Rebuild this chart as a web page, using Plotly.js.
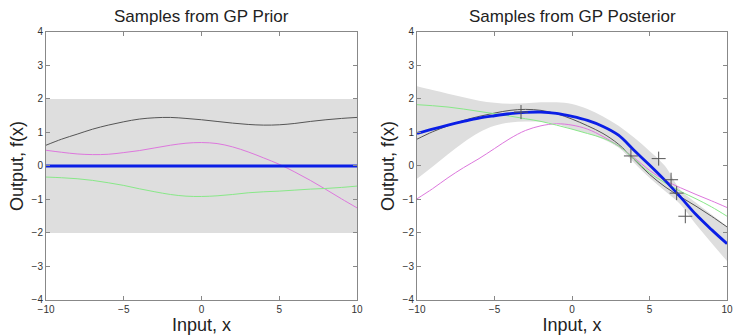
<!DOCTYPE html>
<html>
<head>
<meta charset="utf-8">
<script src="https://cdn.plot.ly/plotly-3.0.1.min.js"></script>
<style>html,body{margin:0;padding:0;background:#fff;}#chart{width:734px;height:335px;}</style>
</head>
<body>
<div id="chart"></div>
<script>
// ---- data ----
const xs = [-10,-9,-8,-7,-6,-5,-4,-3,-2,-1,0,1,2,3,4,5,6,7,8,9,10];

// prior
const priorBandX = [-10, 10];
const priorUpper = [2, 2];
const priorLower = [-2, -2];
const priorMean = [0,0,0,0,0,0,0,0,0,0,0,0,0,0,0,0,0,0,0,0,0];
const priorBlack = [0.62,0.80,0.95,1.10,1.22,1.32,1.40,1.44,1.45,1.42,1.38,1.33,1.28,1.24,1.22,1.23,1.27,1.33,1.38,1.42,1.45];
const priorMagenta = [0.47,0.41,0.36,0.34,0.35,0.40,0.46,0.54,0.62,0.68,0.70,0.67,0.57,0.42,0.24,0.05,-0.18,-0.43,-0.70,-0.98,-1.25];
const priorGreen = [-0.33,-0.35,-0.38,-0.43,-0.50,-0.58,-0.68,-0.77,-0.85,-0.90,-0.91,-0.89,-0.85,-0.80,-0.77,-0.75,-0.72,-0.69,-0.67,-0.64,-0.60];

// posterior
const postUpper = [2.38,2.27,2.16,2.05,1.95,1.89,1.86,1.87,1.90,1.90,1.85,1.70,1.48,1.20,0.85,0.45,0.00,-0.72,-1.10,-1.45,-1.80];
const postLower = [-0.38,-0.02,0.35,0.70,1.00,1.20,1.30,1.33,1.32,1.25,1.10,0.98,0.80,0.55,0.10,-0.35,-0.75,-1.15,-1.75,-2.30,-2.84];
const postMean = [0.97,1.10,1.22,1.33,1.43,1.50,1.56,1.60,1.61,1.57,1.48,1.36,1.18,0.92,0.47,0.03,-0.43,-0.93,-1.45,-1.90,-2.32];
const postBlack = [0.80,1.02,1.20,1.36,1.48,1.58,1.66,1.69,1.66,1.56,1.40,1.20,0.97,0.65,0.20,-0.25,-0.62,-0.92,-1.20,-1.50,-1.82];
const postGreen = [1.83,1.80,1.76,1.70,1.63,1.56,1.49,1.41,1.33,1.22,1.10,0.97,0.83,0.60,0.22,-0.20,-0.50,-0.76,-0.98,-1.22,-1.50];
const postMagenta = [-0.98,-0.68,-0.35,-0.05,0.22,0.52,0.82,1.06,1.20,1.26,1.22,1.10,0.88,0.60,0.25,-0.13,-0.43,-0.65,-0.85,-1.04,-1.24];
const obsX = [-3.29, 3.80, 5.59, 6.39, 6.75, 7.31];
const obsY = [1.61, 0.30, 0.22, -0.41, -0.81, -1.50];

const tickX = [-10,-5,0,5,10];
const tickXText = ['\u221210','\u22125','0','5','10'];
const tickY = [-4,-3,-2,-1,0,1,2,3,4];
const tickYText = ['\u22124','\u22123','\u22122','\u22121','0','1','2','3','4'];

// ---- styles ----
const bandColor = '#dedede';
const cBlack = '#555555', cMag = '#dd77dd', cGreen = '#88e888', cBlue = '#0a1ee6';

function line(x, y, color, w, xa, ya) {
  return {x: x, y: y, mode: 'lines', line: {color: color, width: w, shape: 'spline', smoothing: 1}, xaxis: xa, yaxis: ya, hoverinfo: 'skip', showlegend: false};
}

const traces = [
  {x: priorBandX, y: priorUpper, mode: 'lines', line: {width: 0}, xaxis: 'x', yaxis: 'y', showlegend: false, hoverinfo: 'skip'},
  {x: priorBandX, y: priorLower, mode: 'lines', line: {width: 0}, fill: 'tonexty', fillcolor: bandColor, xaxis: 'x', yaxis: 'y', showlegend: false, hoverinfo: 'skip'},
  line(xs, priorBlack, cBlack, 1, 'x', 'y'),
  line(xs, priorMagenta, cMag, 1, 'x', 'y'),
  line(xs, priorGreen, cGreen, 1, 'x', 'y'),
  line(xs, priorMean, cBlue, 2.8, 'x', 'y'),

  {x: xs, y: postUpper, mode: 'lines', line: {width: 0, shape: 'spline'}, xaxis: 'x2', yaxis: 'y2', showlegend: false, hoverinfo: 'skip'},
  {x: xs, y: postLower, mode: 'lines', line: {width: 0, shape: 'spline'}, fill: 'tonexty', fillcolor: bandColor, xaxis: 'x2', yaxis: 'y2', showlegend: false, hoverinfo: 'skip'},
  line(xs, postBlack, cBlack, 1, 'x2', 'y2'),
  line(xs, postMagenta, cMag, 1, 'x2', 'y2'),
  line(xs, postGreen, cGreen, 1, 'x2', 'y2'),
  line(xs, postMean, cBlue, 2.8, 'x2', 'y2'),
  {x: obsX, y: obsY, mode: 'markers', marker: {symbol: 'cross-thin-open', size: 10, color: '#555', line: {color: '#555', width: 1}}, xaxis: 'x2', yaxis: 'y2', showlegend: false, hoverinfo: 'skip'}
];

const axisFont = {family: 'Liberation Sans, Arial, sans-serif', size: 10, color: '#333'};
function xax(domain, anchor) {
  return {domain: domain, anchor: anchor, range: [-10, 10], tickvals: tickX, ticktext: tickXText,
    ticks: 'inside', ticklen: 4, tickcolor: '#888', showline: true, linecolor: '#888', linewidth: 1, mirror: 'ticks',
    showgrid: false, zeroline: false, tickfont: axisFont, fixedrange: true,
    title: {text: 'Input, x', font: {family: 'Liberation Sans, Arial, sans-serif', size: 18, color: '#222'}, standoff: 2}};
}
function yax(anchor) {
  return {domain: [0.1045, 0.9045], anchor: anchor, range: [-4, 4], tickvals: tickY, ticktext: tickYText,
    ticks: 'inside', ticklen: 4, tickcolor: '#888', showline: true, linecolor: '#888', linewidth: 1, mirror: 'ticks',
    showgrid: false, zeroline: false, tickfont: axisFont, fixedrange: true,
    title: {text: 'Output, f(x)', font: {family: 'Liberation Sans, Arial, sans-serif', size: 18, color: '#222'}, standoff: 3}};
}

const layout = {
  width: 734, height: 335,
  margin: {l: 0, r: 0, t: 0, b: 0},
  paper_bgcolor: '#fff', plot_bgcolor: '#fff',
  xaxis: xax([0.0627, 0.4864], 'y'),
  yaxis: yax('x'),
  xaxis2: xax([0.5681, 0.9905], 'y2'),
  yaxis2: yax('x2'),
  annotations: [
    {text: 'Samples from GP Prior', xref: 'paper', yref: 'paper', x: (0.0627 + 0.4864) / 2, y: 1 - 17 / 335, xanchor: 'center', yanchor: 'middle', showarrow: false,
     font: {family: 'Liberation Sans, Arial, sans-serif', size: 17, color: '#222'}},
    {text: 'Samples from GP Posterior', xref: 'paper', yref: 'paper', x: (0.5681 + 0.9905) / 2, y: 1 - 17 / 335, xanchor: 'center', yanchor: 'middle', showarrow: false,
     font: {family: 'Liberation Sans, Arial, sans-serif', size: 17, color: '#222'}}
  ]
};

Plotly.newPlot('chart', traces, layout, {displayModeBar: false, staticPlot: true});
</script>
</body>
</html>
